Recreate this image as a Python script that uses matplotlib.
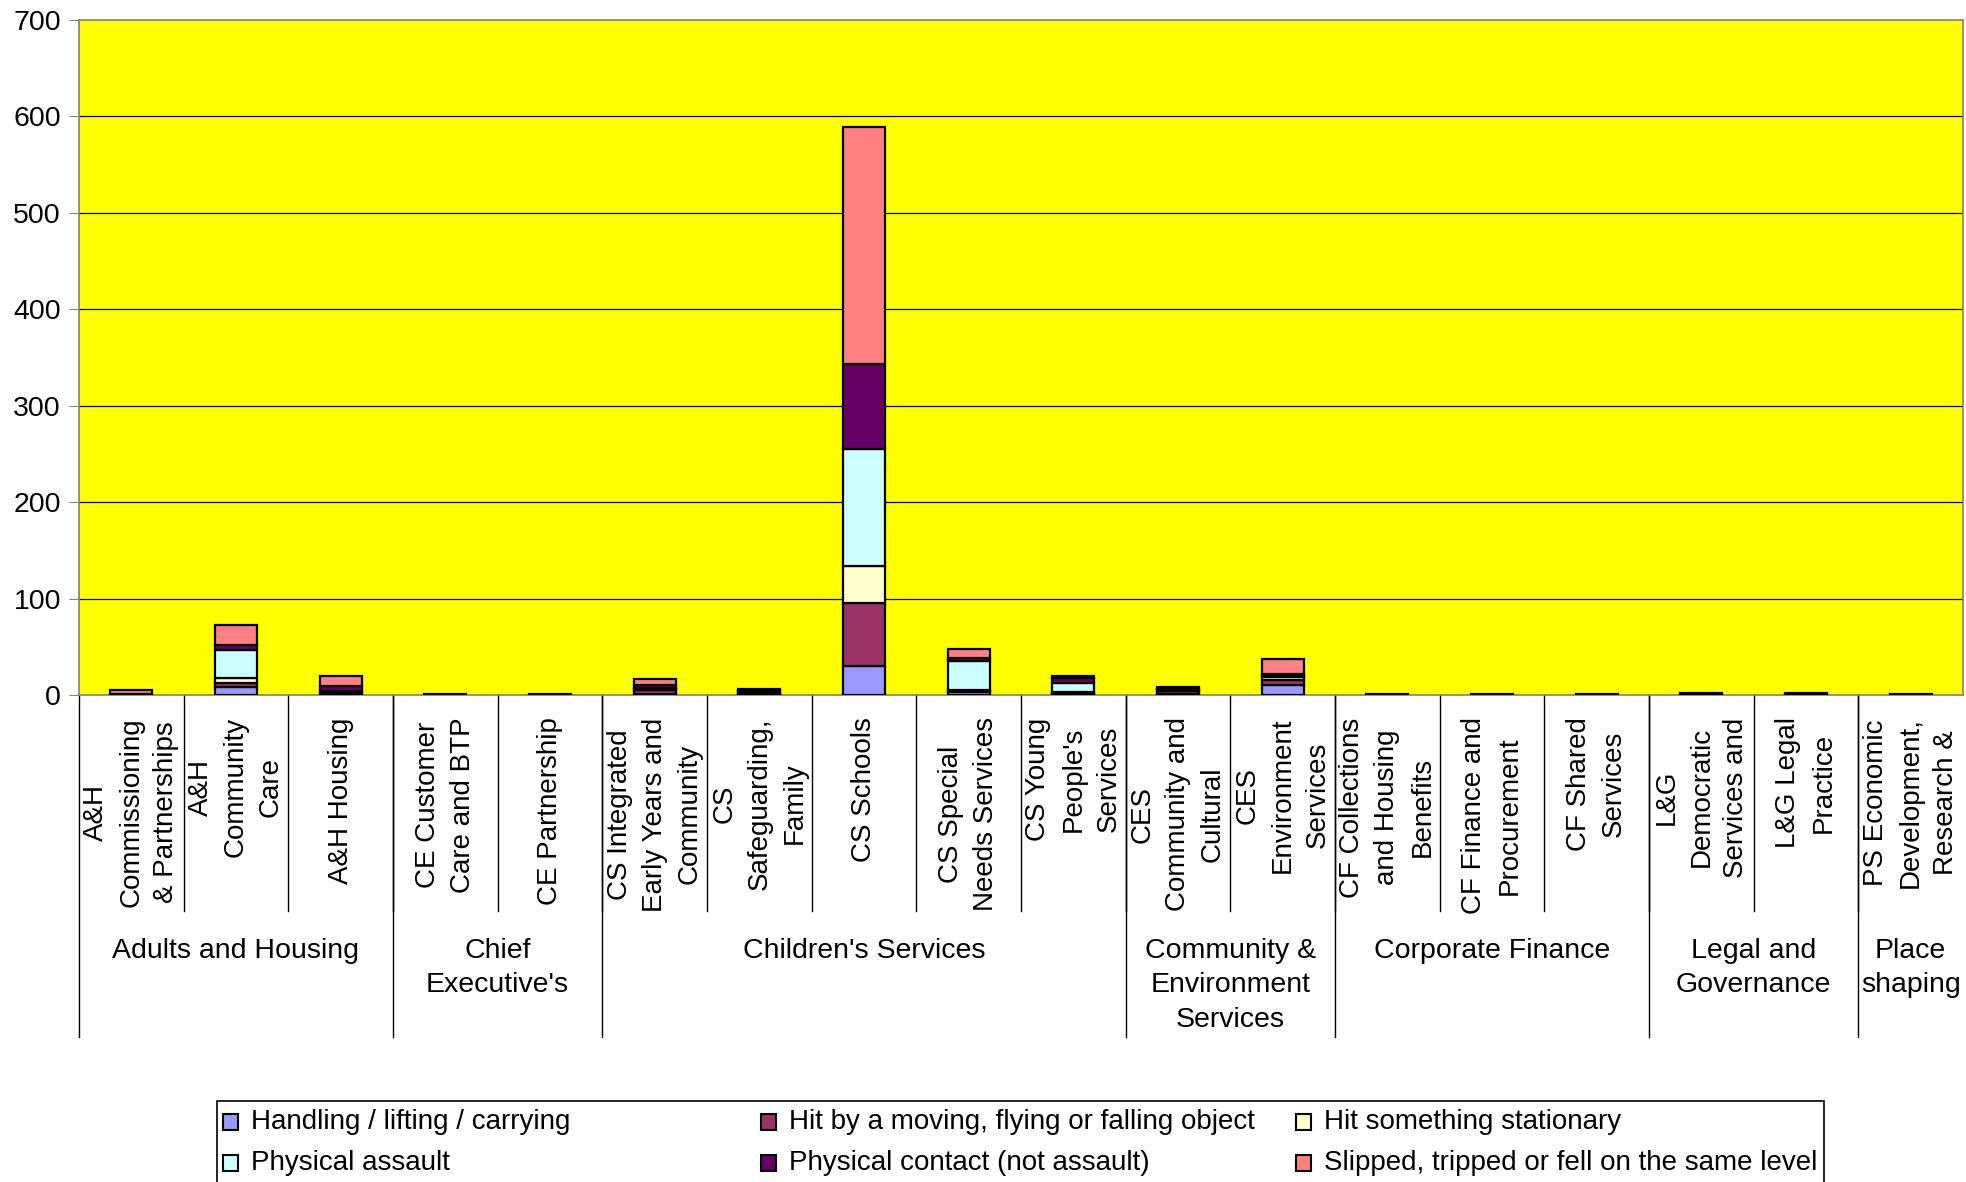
import matplotlib
matplotlib.use("Agg")
import matplotlib.pyplot as plt
from matplotlib.patches import Rectangle
import matplotlib.transforms as mtransforms
import numpy as np

plt.rcParams['font.family'] = ['Liberation Sans', 'DejaVu Sans']

categories = [
    "A&H\nCommissioning\n& Partnerships", "A&H\nCommunity\nCare", "A&H Housing",
    "CE Customer\nCare and BTP", "CE Partnership",
    "CS Integrated\nEarly Years and\nCommunity", "CS\nSafeguarding,\nFamily", "CS Schools",
    "CS Special\nNeeds Services", "CS Young\nPeople's\nServices",
    "CES\nCommunity and\nCultural", "CES\nEnvironment\nServices",
    "CF Collections\nand Housing\nBenefits", "CF Finance and\nProcurement", "CF Shared\nServices",
    "L&G\nDemocratic\nServices and", "L&G Legal\nPractice",
    "PS Economic\nDevelopment,\nResearch &",
]
groups = ["Adults and Housing", "Chief\nExecutive's", "Children's Services",
          "Community &\nEnvironment\nServices", "Corporate Finance",
          "Legal and\nGovernance", "Place\nshaping"]
group_sizes = [3, 2, 5, 2, 3, 2, 1]

series = ["Handling / lifting / carrying", "Hit by a moving, flying or falling object",
          "Hit something stationary", "Physical assault",
          "Physical contact (not assault)", "Slipped, tripped or fell on the same level"]
colors = ["#9999FF", "#993366", "#FFFFCC", "#CCFFFF", "#660066", "#FF8080"]

handling   = [0, 8, 1, 0, 0, 1, 1, 30, 3, 1, 1, 10, 0, 0, 0, 1, 1, 0]
hit_moving = [0, 4, 2, 0, 0, 4, 1, 65, 1, 1, 3, 6, 0, 0, 0, 0, 0, 0]
stationary = [0, 6, 0, 0, 0, 1, 0, 39, 1, 1, 0, 3, 0, 0, 0, 0, 0, 0]
assault    = [0, 29, 1, 0, 0, 1, 2, 121, 30, 9, 1, 1, 0, 0, 0, 0, 0, 0]
contact    = [1, 5, 5, 0, 0, 3, 1, 88, 3, 6, 1, 2, 0, 0, 0, 0, 0, 0]
slipped    = [4, 21, 11, 1, 1, 7, 1, 246, 10, 2, 2, 15, 1, 1, 1, 1, 1, 1]
values = [handling, hit_moving, stationary, assault, contact, slipped]

W, H = 1966, 1182
fig = plt.figure(figsize=(W / 100, H / 100), dpi=100)
ax = fig.add_axes([79 / W, 1 - 695 / H, 1884 / W, 675 / H])
ax.set_facecolor("#FFFF00")

x = np.arange(len(categories))
bottom = np.zeros(len(categories))
for vals, col, name in zip(values, colors, series):
    ax.bar(x, vals, 0.4, bottom=bottom, color=col, edgecolor="black", linewidth=1.6,
           label=name, zorder=3)
    bottom += np.array(vals)

ax.set_xlim(-0.5, len(categories) - 0.5)
ax.set_ylim(0, 700)
ax.set_yticks(range(0, 701, 100))
ax.tick_params(axis="y", labelsize=20.5, length=7, color="#808080", direction="out", pad=6)
ax.set_xticks([])
for y in range(100, 700, 100):
    ax.axhline(y, color="black", lw=0.9, zorder=1)
for s in ax.spines.values():
    s.set_color("#808080")
    s.set_linewidth(1.2)

trans = mtransforms.blended_transform_factory(ax.transData, ax.transAxes)

# category labels
for i, lab in enumerate(categories):
    ax.text(i, -0.033, lab, transform=trans, rotation=90, ha="center", va="top",
            multialignment="center", fontsize=20, linespacing=1.45, clip_on=False)

# tick separators between categories
for i in range(len(categories) - 1):
    ax.plot([i + 0.5, i + 0.5], [0, -0.32], transform=trans, color="black",
            lw=1, clip_on=False)

# group separators and labels
start = 0
bounds = [-0.5]
for g, n in zip(groups, group_sizes):
    mid = start + (n - 1) / 2
    ax.text(mid, -0.36, g, transform=trans, ha="center", va="top",
            multialignment="center", fontsize=20.5, linespacing=1.42, clip_on=False)
    start += n
    bounds.append(start - 0.5)
for b in bounds[:-1]:
    ax.plot([b, b], [0, -0.507], transform=trans, color="black", lw=1, clip_on=False)

# legend box, row-wise like the original
fig.patches.append(Rectangle((217 / W, -0.05), 1607 / W, (H - 1101) / H + 0.05,
                             transform=fig.transFigure, facecolor="white",
                             edgecolor="black", lw=1.2))
col_x = [223, 761, 1296]
row_y = [1122, 1163]
for k, (name, col) in enumerate(zip(series, colors)):
    r, c = divmod(k, 3)
    fig.patches.append(Rectangle((col_x[c] / W, 1 - (row_y[r] + 8) / H), 15 / W, 16 / H,
                                 transform=fig.transFigure, facecolor=col,
                                 edgecolor="black", lw=1.5))
    fig.text((col_x[c] + 28) / W, 1 - row_y[r] / H, name, fontsize=20,
             ha="left", va="center")

fig.savefig("out.png", dpi=100)
plt.close(fig)
